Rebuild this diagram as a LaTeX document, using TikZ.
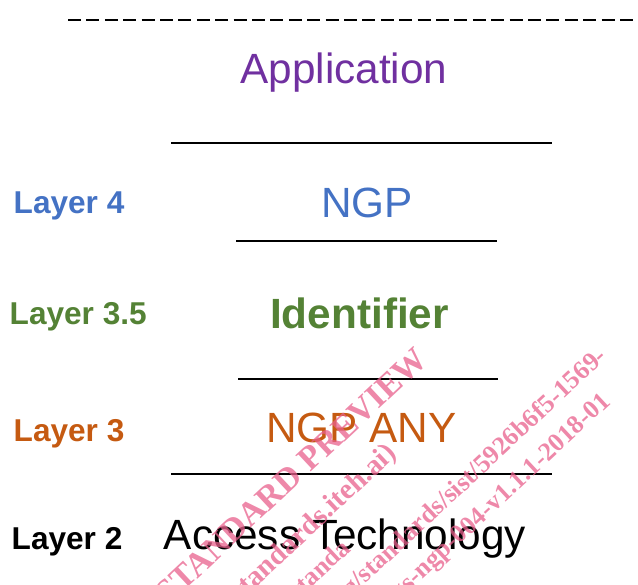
\documentclass[tikz,border=0pt]{standalone}
\usepackage{fontspec}
\setmainfont{Liberation Sans}
\newfontfamily\wmfont{Liberation Serif}
\definecolor{appcol}{HTML}{7030A0}
\definecolor{l4col}{HTML}{4472C4}
\definecolor{l35col}{HTML}{548235}
\definecolor{l3col}{HTML}{C55A11}
\definecolor{wmcol}{RGB}{232,96,140}
\tikzset{
  maintext/.style={inner sep=0pt, anchor=base, font=\fontsize{42.3}{48}\selectfont},
  layerlabel/.style={inner sep=0pt, anchor=base west, font=\fontsize{31.6}{36}\selectfont\bfseries},
  sepline/.style={line width=2.7pt},
  topline/.style={line width=2.2pt, dash pattern=on 13pt off 5.4pt},
  wmark/.style={inner sep=0pt, anchor=base east, rotate=43, text=wmcol, text opacity=0.75,
    font=\wmfont\bfseries\fontsize{26}{28}\selectfont}
}
\begin{document}
\begin{tikzpicture}[x=1pt,y=-1pt]
\useasboundingbox (0,0) rectangle (638,585);

% top boundary of the stack
\draw[topline] (68,20) -- (638,20);

% layer names
\node[maintext, text=appcol] (app) at (344,84) {Application};
\node[maintext, text=l4col] (ngp) at (367,218) {NGP};
\node[maintext, text=l35col, font=\fontsize{42.3}{48}\selectfont\bfseries] (ident) at (359.5,329) {Identifier};
\node[maintext, text=l3col] (ngpany) at (361.5,443) {NGP ANY};
\node[maintext, text=black] (access) at (345,550) {Access Technology};

% separators between layers
\draw[sepline] (171,143) -- (552,143);
\draw[sepline] (236,241) -- (497,241);
\draw[sepline] (238,379) -- (498,379);
\draw[sepline] (171,474) -- (552,474);

% layer numbers
\node[layerlabel, text=l4col] (l4) at (13.5,214) {Layer 4};
\node[layerlabel, text=l35col] (l35) at (9.5,325) {Layer 3.5};
\node[layerlabel, text=l3col] (l3) at (13.5,442) {Layer 3};
\node[layerlabel, text=black] (l2) at (11.5,550) {Layer 2};

% watermark
\begin{scope}
\clip (0,0) rectangle (638,585);
\node[wmark, font=\wmfont\bfseries\fontsize{34}{36}\selectfont] (wm1) at (430,362) {iTeh STANDARD PREVIEW};
\node[wmark, font=\wmfont\bfseries\fontsize{29}{31}\selectfont] (wm2) at (398,455) {(standards.iteh.ai)};
\node[wmark] (wm3) at (352,550) {https://standa};
\node[wmark] (wm4) at (608,358) {https://standards.iteh.ai/catalog/standards/sist/5926b6f5-1569-};
\node[wmark] (wm5) at (612,403) {etsi-gs-ngp-004-v1.1.1-2018-01};
\end{scope}
\end{tikzpicture}
\end{document}
